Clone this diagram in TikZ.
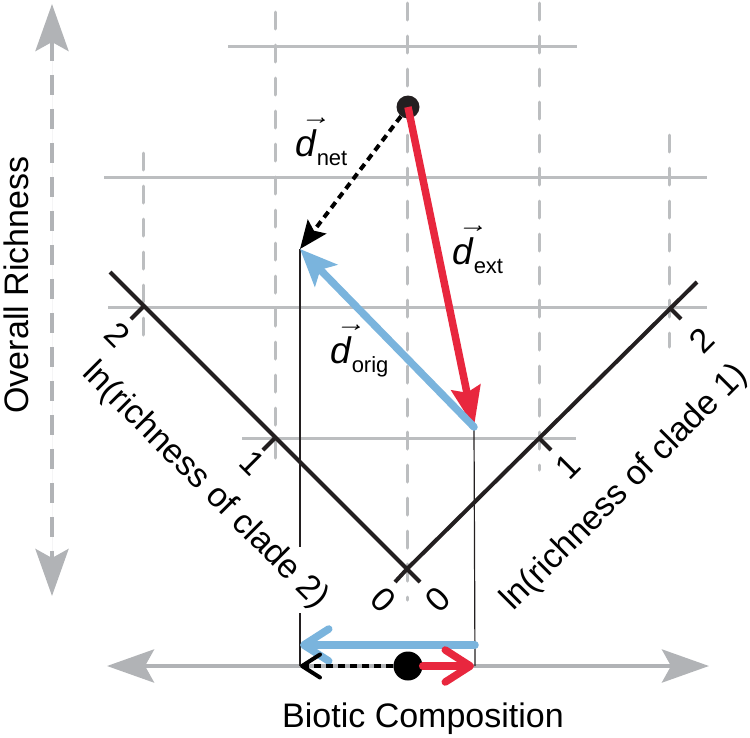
\documentclass[tikz,border=0pt]{standalone}
\usepackage{fontspec}
\setmainfont{Liberation Sans}
\usetikzlibrary{arrows.meta}
\definecolor{gridgray}{RGB}{188,190,192}
\definecolor{axgray}{RGB}{177,179,182}
\definecolor{axblack}{RGB}{35,31,32}
\definecolor{vred}{RGB}{232,39,62}
\definecolor{vblue}{RGB}{122,180,221}
\newcommand{\dlab}[1]{\rlap{\kern4pt\raisebox{19pt}{\scalebox{1.7}[1.1]{$\mathchar"017E$}}}\textit{d}\raisebox{-9pt}{\fontsize{22}{24}\selectfont #1}}
\begin{document}
\begin{tikzpicture}[x=1pt,y=-1pt,
  hgrid/.style={draw=gridgray,line width=3pt},
  vgrid/.style={draw=gridgray,line width=3pt,dash pattern=on 17pt off 16pt,line cap=round},
  axline/.style={draw=axblack,line width=4pt},
  dropline/.style={draw=axblack,line width=1.2pt},
  lbl/.style={font=\fontsize{34}{40}\selectfont,inner sep=0pt},
  dlbl/.style={font=\fontsize{37}{42}\selectfont,inner sep=0pt,anchor=base west},
  bighead/.tip={Stealth[length=47pt,width=33pt,inset=9pt]},
  bigarrow/.style={draw=axgray,fill=axgray,line width=4.5pt,bighead-bighead},
  redv/.style={draw=vred,line width=7.5pt,-{Stealth[length=40pt,width=29pt,inset=5pt]}},
  bluev/.style={draw=vblue,line width=7.5pt,line cap=round,-{Stealth[length=37pt,width=31pt,inset=8pt]}},
  netv/.style={draw=black,line width=4pt,dash pattern=on 7pt off 5pt,-{Stealth[length=28pt,width=23pt,inset=5pt]}},
  redb/.style={draw=vred,line width=7.5pt,line cap=round,-{Straight Barb[length=25pt,width=32pt,line cap=round,line join=round]}},
  blueb/.style={draw=vblue,line width=7.5pt,line cap=round,-{Straight Barb[length=25pt,width=32pt,line cap=round,line join=round]}},
  netb/.style={draw=black,line width=4pt,dash pattern=on 7pt off 5pt,-{Straight Barb[length=18pt,width=23pt,line cap=round,line join=round]}},
  dotnode/.style={circle,fill=black,inner sep=0pt,draw=none}
]
\useasboundingbox (0,0) rectangle (750,737);
% horizontal grid
\draw[hgrid] (228,46) -- (577,46);
\draw[hgrid] (104,177) -- (707,177);
\draw[hgrid] (108,307) -- (707,307);
\draw[hgrid] (242,438) -- (576,438);
% vertical dashed grid
\draw[vgrid] (143,153) -- (143,343);
\draw[vgrid] (275,12) -- (275,473);
\draw[vgrid] (407,3) -- (407,600);
\draw[vgrid] (539,3) -- (539,470);
\draw[vgrid] (669,135) -- (669,347);
% big axes arrows
\coordinate (vt) at (52,4);
\coordinate (vb) at (52,596);
\draw[bigarrow,dash pattern=on 20pt off 14pt] (vt) -- (vb);
\coordinate (hl) at (107,666);
\coordinate (hr) at (709,666);
\draw[bigarrow] (hl) -- (hr);
% V axes
\coordinate (O) at (407,569);
\coordinate (L2) at (143,307);
\coordinate (L1) at (275,438);
\coordinate (R2) at (669,307);
\coordinate (R1) at (539,438);
\draw[axline] (110,272) -- (O) -- (420,582);
\draw[axline] (697,282) -- (O) -- (395,582);
\draw[axline] (L2) -- ++(-12,12);
\draw[axline] (L1) -- ++(-12,12);
\draw[axline] (R2) -- ++(12,12);
\draw[axline] (R1) -- ++(12,12);
% tick labels
\node[lbl,rotate=-45] (l2) at (118,335) {2};
\node[lbl,rotate=-45] (l1) at (252,463) {1};
\node[lbl,rotate=-45] (l0) at (383,600) {0};
\node[lbl,rotate=45] (r2) at (702,340) {2};
\node[lbl,rotate=45] (r1) at (568,467) {1};
\node[lbl,rotate=45] (r0) at (438,600) {0};
% axis titles
\node[lbl,rotate=90] (ylab) at (16,285) {Overall Richness};
\node[lbl,anchor=base] (xlab) at (423,727) {Biotic Composition};
\node[lbl,rotate=-45] (t2) at (205,486) {ln(richness of clade 2)};
\node[lbl,rotate=45] (t1) at (625,488) {ln(richness of clade 1)};
% vectors
\coordinate (E) at (474,427);
\coordinate (N) at (300,249);
\coordinate (Nb) at (300,666);
\coordinate (Eb) at (475,666);
\draw[dropline] (N) -- (300,547);
\draw[dropline] (300,613) -- (Nb);
\draw[dropline] (E) -- (Eb);
\node[dotnode,minimum size=23pt,fill=axblack] (S) at (408,107) {};
\draw[redv] (S.center) -- (E);
\draw[bluev] (E) -- (N);
\draw[netv] (S) -- (N);
\node[dlbl] (dnet) at (295,156) {\dlab{net}};
\node[dlbl] (dext) at (452,264) {\dlab{ext}};
\node[dlbl] (dorig) at (330,363) {\dlab{orig}};
% bottom projection
\coordinate (Bt) at (475,645);
\coordinate (Bh) at (300,645);
\draw[blueb] (Bt) -- (Bh);
\node[dotnode,minimum size=29pt] (D) at (408,666) {};
\coordinate (Rh) at (474,666);
\coordinate (Lh) at (300,666);
\draw[redb] (D) -- (Rh);
\draw[netb] (D) -- (Lh);
\end{tikzpicture}
\end{document}
